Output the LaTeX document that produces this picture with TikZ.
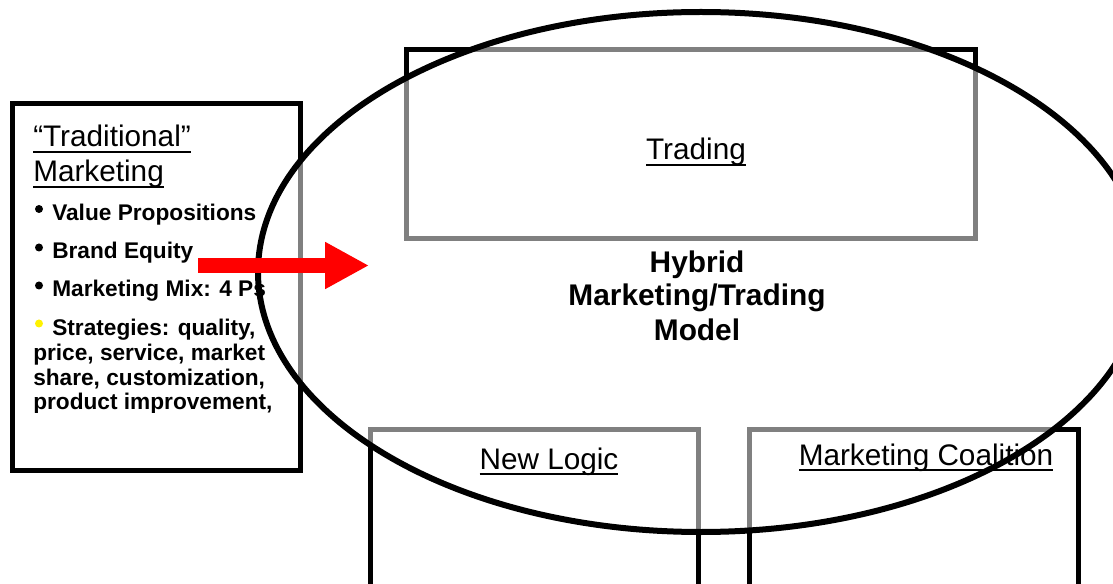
\documentclass[tikz,border=0pt]{standalone}
\usepackage{fontspec}
\setmainfont{Liberation Sans}
\usetikzlibrary{arrows.meta}
\newcommand{\ulbox}[1]{\setbox0\hbox{#1}\rlap{\vrule width\wd0 height -2.8pt depth 4.3pt}\box0}

\begin{document}
\begin{tikzpicture}[x=0.75pt,y=0.75pt,yscale=-1,xscale=1,
  frame/.style={line width=3.75pt},
  ttl/.style={inner sep=0pt,font=\fontsize{22.3}{26}\selectfont},
  itm/.style={anchor=base west,inner sep=0pt,font=\fontsize{17}{19}\selectfont\bfseries},
  hyb/.style={anchor=base,inner sep=0pt,font=\fontsize{22.4}{25}\selectfont\bfseries},
  dot/.style={circle,fill=black,inner sep=0pt,minimum size=6pt},
  redarrow/.style={draw=red,line width=11.25pt,-{Triangle[length=33pt,width=33pt]}}]
  \useasboundingbox (0,0) rectangle (1113,584);
  \clip (0,0) rectangle (1113,584);

  %Shape: Rectangle [traditional marketing]
  \draw [frame] (12.5,103.5) rectangle (300.5,470.5);
  %Shape: Rectangle [trading]
  \draw [frame] (406,50) rectangle (975,239);
  %Shape: Rectangle [new logic]
  \draw [frame] (370,429) rectangle (698,600);
  %Shape: Rectangle [marketing coalition]
  \draw [frame] (749,429) rectangle (1078,600);

  %Shape: Ellipse, half-transparent fill
  \fill [white,fill opacity=0.5] (701,272) ellipse [x radius=443, y radius=260];

  % Text Node
  \node [ttl,anchor=base] (trading) at (696,160) {\ulbox{Trading}};
  % Text Node
  \node [ttl,anchor=base west] (tradQ) at (33,147) {\ulbox{“Traditional”}};
  % Text Node
  \node [ttl,anchor=base west] (tradM) at (33,182) {\ulbox{Marketing}};

  % Bullets
  \node [dot] (d1) at (39,209) {};
  \node [itm] (v1) at (52,221) {Value Propositions};
  \node [dot] (d2) at (39,247.5) {};
  \node [itm] (v2) at (52,259) {Brand Equity};
  \node [dot] (d3) at (39,285.5) {};
  \node [itm] (v3) at (52,297) {Marketing Mix: 4 Ps};
  \node [dot,fill=yellow] (d4) at (39,323.5) {};
  \node [itm] (v4) at (52,335) {Strategies: quality,};
  \node [itm] (v5) at (33,360) {price, service, market};
  \node [itm] (v6) at (33,385) {share, customization,};
  \begin{scope}
    \clip (20,390) rectangle (300,412);
    \node [itm] (v7) at (33,409) {product improvement,};
  \end{scope}

  % Text Node
  \node [hyb] (hy1) at (697,273) {Hybrid};
  \node [hyb] (hy2) at (697,306) {Marketing/Trading};
  \node [hyb] (hy3) at (697,340) {Model};

  % Text Node
  \node [ttl,anchor=base] (newlogic) at (549,469) {\ulbox{New Logic}};
  % Text Node
  \node [ttl,anchor=base] (coalition) at (926,465) {\ulbox{Marketing Coalition}};

  %Shape: Ellipse outline
  \draw [line width=4.5pt] (701,272) ellipse [x radius=443, y radius=260];

  %Arrow
  \coordinate (arS) at (198,265.5);
  \coordinate (arE) at (369,265.5);
  \draw [redarrow] (arS) -- (arE);
\end{tikzpicture}
\end{document}
